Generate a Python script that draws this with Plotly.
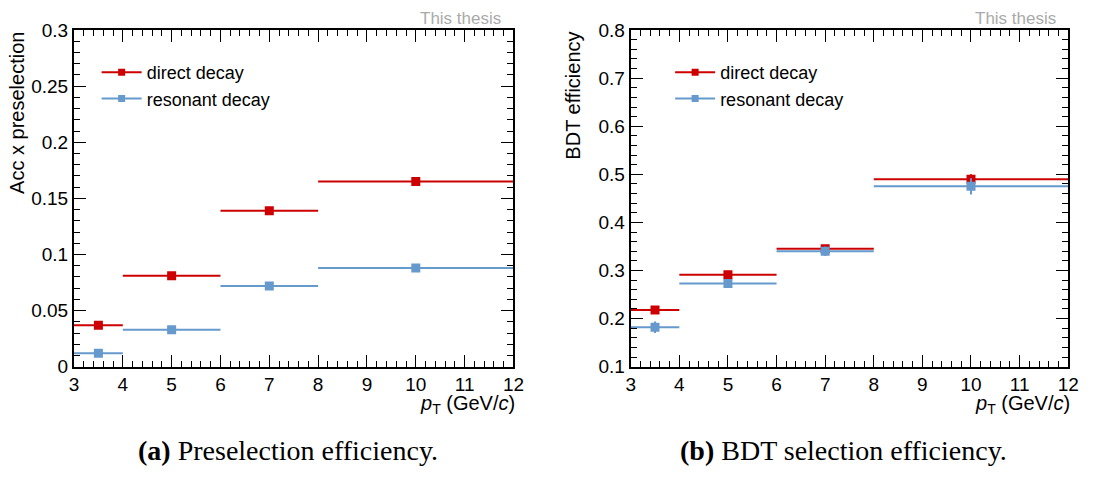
import plotly.graph_objects as go

# ---- data ----
bin_centers = [3.5, 5, 7, 10]
bin_half_widths = [0.5, 1, 1, 2]

pre_direct = [0.037, 0.081, 0.139, 0.165]
pre_direct_err = [0.001, 0.0015, 0.002, 0.002]
pre_resonant = [0.012, 0.033, 0.072, 0.088]
pre_resonant_err = [0.001, 0.001, 0.0015, 0.0015]

bdt_direct = [0.218, 0.291, 0.345, 0.490]
bdt_direct_err = [0.005, 0.006, 0.008, 0.010]
bdt_resonant = [0.182, 0.273, 0.340, 0.475]
bdt_resonant_err = [0.012, 0.008, 0.010, 0.017]

x_ticks = [3, 4, 5, 6, 7, 8, 9, 10, 11, 12]
pre_yticks = [0, 0.05, 0.1, 0.15, 0.2, 0.25, 0.3]
pre_ylabels = ["0", "0.05", "0.1", "0.15", "0.2", "0.25", "0.3"]
bdt_yticks = [0.1, 0.2, 0.3, 0.4, 0.5, 0.6, 0.7, 0.8]
bdt_ylabels = ["0.1", "0.2", "0.3", "0.4", "0.5", "0.6", "0.7", "0.8"]

RED = "#cc0000"
BLUE = "#6699cc"
W, H = 1094, 480
FONT = "Liberation Sans, Arial, sans-serif"

fig = go.Figure()

def add_series(y, yerr, color, name, xaxis, yaxis, legend, group):
    fig.add_trace(go.Scatter(
        x=bin_centers, y=y, mode="markers",
        marker=dict(symbol="square", size=9, color=color),
        error_x=dict(type="data", array=bin_half_widths, width=0, thickness=2, color=color),
        error_y=dict(type="data", array=yerr, width=0, thickness=2, color=color),
        xaxis=xaxis, yaxis=yaxis, showlegend=False, hoverinfo="x+y"))
    fig.add_trace(go.Scatter(
        x=[None], y=[None], mode="lines+markers", name=name,
        marker=dict(symbol="square", size=7, color=color),
        line=dict(color=color, width=2), legendgroup=group,
        xaxis=xaxis, yaxis=yaxis, legend=legend, showlegend=True))

add_series(pre_direct, pre_direct_err, RED, "direct decay", "x", "y", "legend", "a1")
add_series(pre_resonant, pre_resonant_err, BLUE, "resonant decay", "x", "y", "legend", "a2")
add_series(bdt_direct, bdt_direct_err, RED, "direct decay", "x2", "y2", "legend2", "b1")
add_series(bdt_resonant, bdt_resonant_err, BLUE, "resonant decay", "x2", "y2", "legend2", "b2")

L1, R1 = 70 / W, 516 / W
L2, R2 = 635 / W, 1079 / W
B, T = 1 - 373 / H, 1 - 21 / H

axis_common = dict(
    showline=True, linecolor="black", linewidth=2, mirror="allticks",
    ticks="inside", ticklen=12, tickwidth=1, tickcolor="black",
    showgrid=False, zeroline=False,
    tickfont=dict(family=FONT, size=19, color="black"),
)

xa = dict(axis_common, range=[3, 12], tickvals=x_ticks,
          minor=dict(dtick=0.2, ticks="inside", ticklen=6, tickcolor="black", showgrid=False))
legend_common = dict(xanchor="left", yanchor="top", bgcolor="rgba(0,0,0,0)",
                     font=dict(family=FONT, size=18, color="black"),
                     tracegroupgap=0, itemwidth=40, traceorder="grouped")
fig.update_layout(
    xaxis=dict(xa, domain=[L1, R1], anchor="y"),
    xaxis2=dict(xa, domain=[L2, R2], anchor="y2"),
    yaxis=dict(axis_common, domain=[B, T], anchor="x", range=[0, 0.3],
               tickvals=pre_yticks, ticktext=pre_ylabels,
               minor=dict(dtick=0.01, ticks="inside", ticklen=6, tickcolor="black", showgrid=False)),
    yaxis2=dict(axis_common, domain=[B, T], anchor="x2", range=[0.1, 0.8],
                tickvals=bdt_yticks, ticktext=bdt_ylabels,
                minor=dict(dtick=0.02, ticks="inside", ticklen=6, tickcolor="black", showgrid=False)),
    legend=dict(legend_common, x=93 / W, y=1 - 46 / H),
    legend2=dict(legend_common, x=675 / W, y=1 - 46 / H),
    width=W, height=H, margin=dict(l=0, r=0, t=0, b=0),
    paper_bgcolor="white", plot_bgcolor="white",
    font=dict(family=FONT, color="black"),
)

ann = []
# y titles
ann.append(dict(text="Acc x preselection", x=12 / W, y=T, xref="paper", yref="paper",
                textangle=-90, xanchor="center", yanchor="top", showarrow=False,
                font=dict(family=FONT, size=20, color="black")))
ann.append(dict(text="BDT efficiency", x=577 / W, y=T, xref="paper", yref="paper",
                textangle=-90, xanchor="center", yanchor="top", showarrow=False,
                font=dict(family=FONT, size=20, color="black")))
# x titles
for r in (R1, R2):
    ann.append(dict(text="<i>p</i><sub>T</sub> (GeV/<i>c</i>)", x=r + 4 / W, y=1 - 397 / H,
                    xref="paper", yref="paper", xanchor="right", yanchor="top",
                    showarrow=False, font=dict(family=FONT, size=20, color="black")))
# "This thesis"
for xr in (505 / W, 1069 / W):
    ann.append(dict(text="This thesis", x=xr, y=1 - 9 / H, xref="paper", yref="paper",
                    xanchor="right", yanchor="middle", showarrow=False,
                    font=dict(family=FONT, size=17, color="#aaaaaa")))
# captions
ann.append(dict(text="<b>(a)</b> Preselection efficiency.", x=287 / W, y=1 - 461 / H,
                xref="paper", yref="paper", xanchor="center", yanchor="middle",
                showarrow=False, font=dict(family="Liberation Serif, serif", size=28, color="black")))
ann.append(dict(text="<b>(b)</b> BDT selection efficiency.", x=851 / W, y=1 - 461 / H,
                xref="paper", yref="paper", xanchor="center", yanchor="middle",
                showarrow=False, font=dict(family="Liberation Serif, serif", size=28, color="black")))
fig.update_layout(annotations=ann)

fig.write_html("out.html")
